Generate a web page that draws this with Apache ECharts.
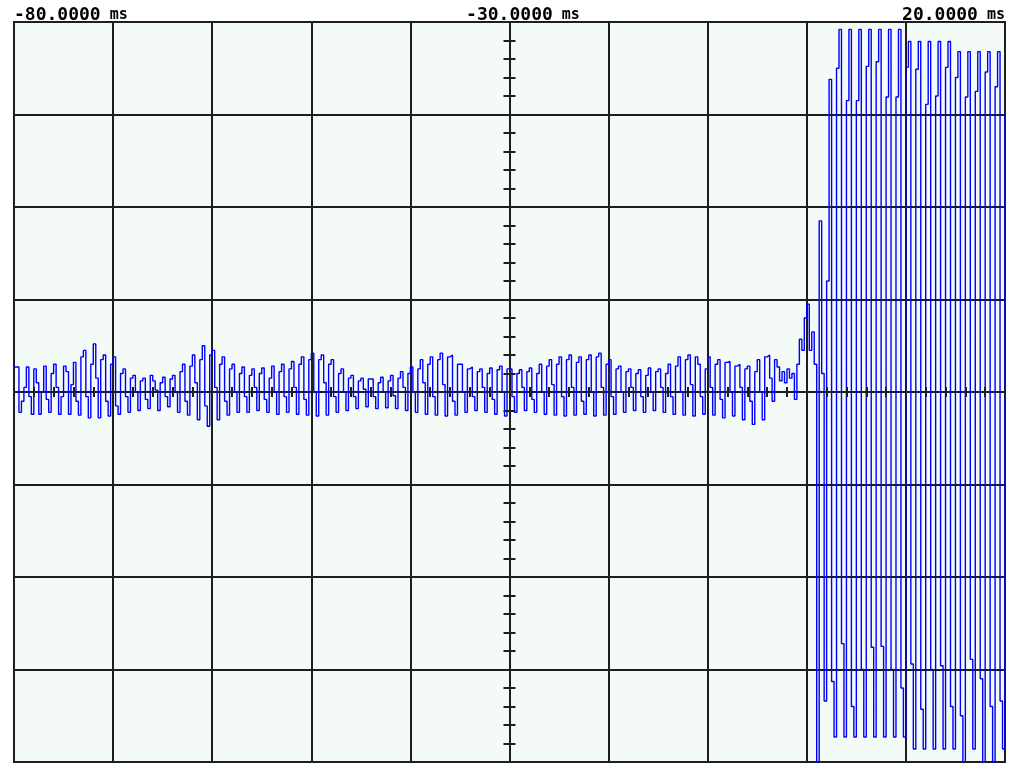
<!DOCTYPE html>
<html><head><meta charset="utf-8">
<script src="https://cdn.jsdelivr.net/npm/echarts@6/dist/echarts.min.js"></script>
<style>html,body{margin:0;padding:0;background:#fff}#c{width:1020px;height:764px}</style>
</head><body><div id="c"></div>
<script>
// sampling of the trace
const startMs = -80;
const stepMs = 0.25;

// pre-trigger noise, one array per 10 ms division (units: 100 per vertical division)
const div1 = [27,27,-22,-10, 5,27,-5,-24, 25,10,-24,0, 28,-8,-22,20, 30,5,-24,-5, 28,22,-24,8, 32,-10,-25,38, 45,-5,-28,30, 52,15,-28,35, 40,-10,-26,30];
const div2 = [38,-15,-24,20, 25,-5,-22,15, 18,0,-20,12, 15,-8,-18,18, 12,2,-20,10, 16,-5,-16,14, 18,0,-22,22, 30,-10,-25,28, 40,10,-30,35, 50,-15,-37,40];
const div3 = [45,5,-30,30, 38,-10,-25,25, 30,0,-22,20, 27,-5,-22,18, 25,5,-20,20, 26,-8,-22,15, 28,0,-24,22, 30,-5,-22,25, 33,5,-24,30, 38,-8,-25,35];
const div4 = [42,0,-26,35, 40,10,-25,30, 35,-5,-22,20, 25,0,-20,15, 18,-5,-18,12, 15,3,-16,14, 14,-5,-18,10, 16,0,-17,12, 18,-4,-18,15, 22,5,-20,20];
const div5 = [27,0,-22,25, 35,10,-24,30, 38,-5,-25,35, 42,8,-26,38, 40,-10,-25,30, 30,0,-22,25, 27,-5,-20,22, 25,5,-22,20, 26,-8,-24,24, 28,0,-26,25];
const div6 = [25,-5,-22,20, 24,5,-20,22, 26,-8,-22,20, 30,0,-24,28, 35,8,-25,30, 38,-5,-26,35, 40,5,-25,32, 38,-10,-24,35, 40,0,-26,38, 42,5,-25,30];
const div7 = [35,-5,-24,25, 28,0,-22,22, 25,5,-20,20, 24,-5,-22,18, 26,0,-20,22, 25,5,-22,20, 30,-5,-24,28, 38,0,-25,35, 40,8,-26,38, 30,-5,-24,25];
const div8 = [38,5,-25,30, 35,-8,-28,32, 33,0,-26,28, 30,5,-30,25, 28,-10,-35,22, 35,0,-30,38, 40,15,-10,35, 27,12,22,10, 25,15,20,-8, 30,57,45,80];

// post-trigger oscillation, 0 ms .. 20 ms
const burst = [95,45,65,30, -420,185,20,-334, 120,338,-313,-373, 350,392,-272,-373, 315,392,-340,-373,
  315,392,-300,-373, 352,392,-276,-373, 357,392,-275,-373, 319,392,-300,-373, 319,392,-320,-373,
  351,379,-294,-386, 349,379,-343,-386, 311,379,-300,-386, 320,379,-296,-386, 351,379,-340,-386,
  340,368,-350,-405, 319,368,-289,-386, 325,368,-310,-405, 346,368,-340,-405, 330,368,-334,-386, 300];

// axis labels
const labelTicks = [-80, -30, 20];
const labelTexts = ['-80.0000', '-30.0000', '20.0000'];
const unitText = 'ms';

const values = [].concat(div1, div2, div3, div4, div5, div6, div7, div8, burst);
const data = values.map((v, i) => [startMs + i * stepMs, v]);

const gridColor = '#1e1e1e';
const font = 'DejaVu Sans Mono';
const chart = echarts.init(document.getElementById('c'), null, {renderer: 'canvas'});

const tickX = (pos) => ({
  type: 'value', min: -80, max: 20, interval: 2, position: pos, z: 5,
  axisLine: {show: false, onZero: true},
  axisTick: {show: true, inside: true, length: 5, lineStyle: {color: gridColor, width: 2}},
  axisLabel: {show: false}, splitLine: {show: false}
});
const tickY = (pos) => ({
  type: 'value', min: -400, max: 400, interval: 20, position: pos, offset: -495.5, z: 5,
  axisLine: {show: false, onZero: false},
  axisTick: {show: true, inside: true, length: 6, lineStyle: {color: gridColor, width: 2}},
  axisLabel: {show: false}, splitLine: {show: false}
});

chart.setOption({
  animation: false,
  backgroundColor: '#ffffff',
  grid: {left: 14, right: 15, top: 22, bottom: 2, show: true, backgroundColor: '#f4faf6',
    borderColor: gridColor, borderWidth: 2},
  xAxis: [
    {
      type: 'value', min: -80, max: 20, interval: 10, position: 'top',
      axisLine: {show: false, onZero: false}, axisTick: {show: false},
      splitLine: {show: true, lineStyle: {color: gridColor, width: 2}},
      axisLabel: {
        show: true, margin: -2, showMinLabel: true, showMaxLabel: true,
        alignMinLabel: 'left', alignMaxLabel: 'right',
        formatter: (v) => {
          const i = labelTicks.indexOf(v);
          if (i < 0) return '';
          const key = i === 1 ? 'c' : 'n';
          return '{' + key + '|' + labelTexts[i] + '}{u| ' + unitText + '}';
        },
        rich: {
          n: {fontFamily: font, fontWeight: 'bold', fontSize: 18, lineHeight: 18, color: '#000'},
          c: {fontFamily: font, fontWeight: 'bold', fontSize: 18, lineHeight: 18, color: '#000', padding: [0, 0, 0, 27]},
          u: {fontFamily: font, fontWeight: 'bold', fontSize: 15, lineHeight: 18, color: '#000'}
        }
      }
    },
    tickX('bottom'),
    tickX('top')
  ],
  yAxis: [
    {
      type: 'value', min: -400, max: 400, interval: 100,
      axisLine: {show: false, onZero: false}, axisTick: {show: false}, axisLabel: {show: false},
      splitLine: {show: true, lineStyle: {color: gridColor, width: 2}}
    },
    tickY('left'),
    tickY('right')
  ],
  series: [{
    type: 'line', xAxisIndex: 0, yAxisIndex: 0, data: data, step: 'end',
    showSymbol: false, symbol: 'none', clip: true, z: 2,
    lineStyle: {color: '#0000ff', width: 1.4}
  }]
});
</script>
</body></html>
